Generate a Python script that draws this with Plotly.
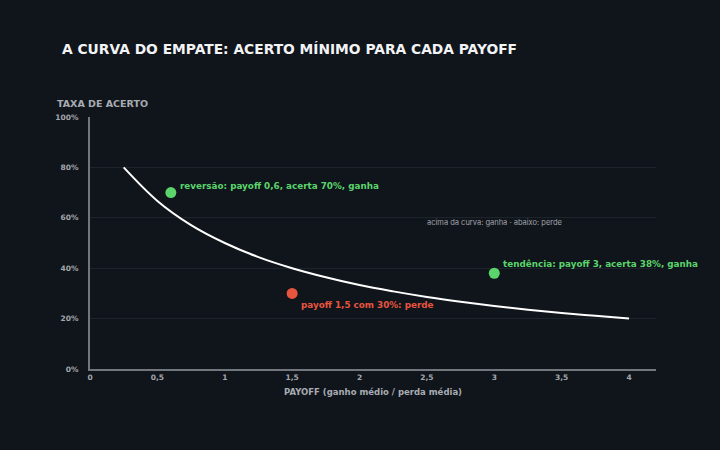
import plotly.graph_objects as go

# Curva do empate
payoff_curve = [0.25, 0.5, 0.75, 1.0, 1.25, 1.5, 1.75, 2.0, 2.25, 2.5, 2.75, 3.0, 3.25, 3.5, 3.75, 4.0]
acerto_curve = [0.80, 0.667, 0.571, 0.50, 0.444, 0.40, 0.364, 0.333, 0.308, 0.286, 0.267, 0.25, 0.235, 0.222, 0.211, 0.20]

# Exemplos
pt_payoff = [0.6, 1.5, 3.0]
pt_acerto = [0.70, 0.30, 0.38]
pt_labels = ["reversão: payoff 0,6, acerta 70%, ganha",
             "payoff 1,5 com 30%: perde",
             "tendência: payoff 3, acerta 38%, ganha"]
pt_colors = ["#5ad46b", "#e8553f", "#5ad46b"]

x_ticks = [0, 0.5, 1, 1.5, 2, 2.5, 3, 3.5, 4]
x_tick_text = ["0", "0,5", "1", "1,5", "2", "2,5", "3", "3,5", "4"]
y_ticks = [0, 0.2, 0.4, 0.6, 0.8, 1.0]
y_tick_text = ["0%", "20%", "40%", "60%", "80%", "100%"]

BG = "#10141b"
GRID = "#1e242c"
AXIS = "#72767d"
TICK = "#a3a7ad"

fig = go.Figure()
fig.add_trace(go.Scatter(x=payoff_curve, y=acerto_curve, mode="lines",
                         line=dict(color="#ffffff", width=2, shape="spline"),
                         hoverinfo="skip", showlegend=False))
fig.add_trace(go.Scatter(x=pt_payoff, y=pt_acerto, mode="markers",
                         marker=dict(color=pt_colors, size=11),
                         showlegend=False))

font_lbl = "DejaVu Sans, sans-serif"
# annotations: (xshift, yshift)
offsets = [(7, 7), (7, -12), (7, 9)]
for x, y, t, c, (dx, dy) in zip(pt_payoff, pt_acerto, pt_labels, pt_colors, offsets):
    fig.add_annotation(x=x, y=y, text=t, showarrow=False, xanchor="left", yanchor="middle",
                       xshift=dx, yshift=dy,
                       font=dict(color=c, size=8.8, family=font_lbl, weight="bold"))

fig.add_annotation(x=3.0, y=0.583, text="acima da curva: ganha · abaixo: perde",
                   showarrow=False, xanchor="center", yanchor="middle",
                   font=dict(color="#a0a4aa", size=7.5, family="Inter, sans-serif"))

fig.add_annotation(xref="paper", yref="paper", x=-35/566, y=1.052, xanchor="left", yanchor="middle",
                   text="TAXA DE ACERTO", showarrow=False,
                   font=dict(color="#a8acb2", size=9.5, family=font_lbl, weight="bold"))

fig.update_layout(
    width=720, height=450,
    paper_bgcolor=BG, plot_bgcolor=BG,
    margin=dict(l=90, r=64, t=117, b=81),
    title=dict(text="A CURVA DO EMPATE: ACERTO MÍNIMO PARA CADA PAYOFF",
               x=62/720, xanchor="left", y=1-49/450, yanchor="middle",
               font=dict(color="#f2f3f5", size=13.8, family=font_lbl, weight="bold")),
    xaxis=dict(range=[0, 4.2], tickvals=x_ticks, ticktext=x_tick_text,
               showgrid=False, zeroline=False, showline=True, linecolor=AXIS, linewidth=2,
               ticks="", tickfont=dict(color=TICK, size=7.5, family=font_lbl, weight="bold"),
               title=dict(text="PAYOFF (ganho médio / perda média)", standoff=8,
                          font=dict(color="#a8acb2", size=8.5, family=font_lbl, weight="bold"))),
    yaxis=dict(range=[0, 1.0], tickvals=y_ticks, ticktext=y_tick_text,
               showgrid=True, gridcolor=GRID, gridwidth=1, zeroline=False,
               showline=True, linecolor=AXIS, linewidth=2, ticks="",
               ticklabelstandoff=8,
               tickfont=dict(color=TICK, size=7.5, family=font_lbl, weight="bold")),
)

fig.write_html("out.html", config={"displayModeBar": False},
               post_script="document.body.style.margin='0';")
